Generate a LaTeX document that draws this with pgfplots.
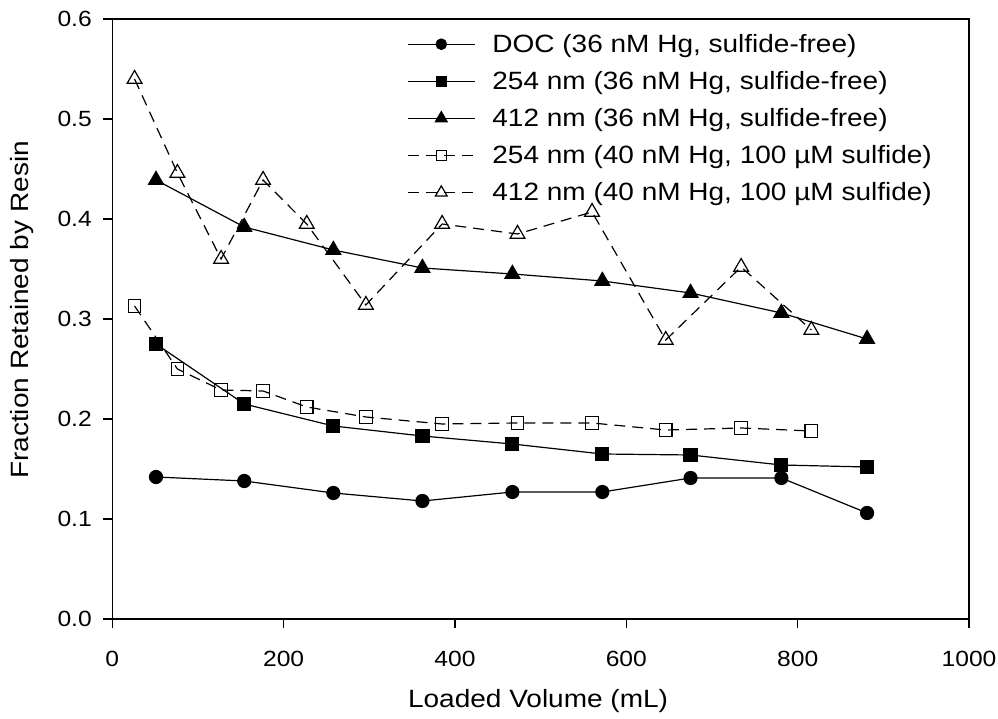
\documentclass[border=0pt]{standalone}
\usepackage{fontspec}
\setmainfont{Liberation Sans}[FakeStretch=1.12]
\usepackage{pgfplots}
\pgfplotsset{compat=1.18}
\begin{document}
\begin{tikzpicture}
\useasboundingbox (0pt,0pt) rectangle (998pt,719pt);
\begin{axis}[
  at={(112.3pt,100pt)}, anchor=south west,
  scale only axis, width=856.7pt, height=600pt,
  xmin=0, xmax=1000, ymin=0, ymax=0.6,
  xtick={0,200,400,600,800,1000},
  ytick={0,0.1,0.2,0.3,0.4,0.5,0.6},
  /pgf/number format/assume math mode=true,
  xtick pos=bottom, ytick pos=left,
  tick align=outside, major tick length=9pt,
  tick style={black, line width=1.2pt},
  axis line style={line width=1.3pt},
  ticklabel style={font=\fontsize{22}{26}\selectfont},
  yticklabel style={xshift=-8pt, /pgf/number format/.cd, fixed, fixed zerofill, precision=1},
  xticklabel style={yshift=-20pt, /pgf/number format/.cd, fixed, 1000 sep={}},
  label style={font=\fontsize{25}{30}\selectfont},
  xlabel={Loaded Volume (mL)},
  ylabel={Fraction Retained by Resin},
  xlabel style={at={(axis description cs:0.497,-0.137)}, anchor=center},
  ylabel style={at={(axis description cs:-0.105,0.515)}, anchor=center},
  legend style={at={(axis description cs:0.344,0.978)}, anchor=north west,
    draw=none, fill=none, inner sep=0pt,
    font=\fontsize{25}{30}\selectfont, row sep=13.5pt, column sep=15pt,
    nodes={inner sep=2pt}},
  legend cell align=left,
  legend image code/.code={
    \draw[mark repeat=2,mark phase=2,#1, every mark/.append style={scale=0.8}]
      plot coordinates {(0pt,0pt) (33.5pt,0pt) (67pt,0pt)};
  },
]
\addplot[black, line width=1.2pt, mark=*, mark size=6.5pt] coordinates {
 (51,0.142) (154,0.138) (258,0.126) (362,0.118) (467,0.127) (572,0.127) (675,0.141) (781,0.141) (881,0.106)};
\addlegendentry{DOC (36 nM Hg, sulfide-free)}
\addplot[black, line width=1.2pt, mark=square*, mark size=6.5pt] coordinates {
 (51,0.275) (154,0.215) (258,0.193) (362,0.183) (467,0.175) (572,0.165) (675,0.164) (781,0.154) (881,0.152)};
\addlegendentry{254 nm (36 nM Hg, sulfide-free)}
\addplot[black, line width=1.2pt, mark=triangle*, mark size=8.5pt] coordinates {
 (51,0.439) (154,0.392) (258,0.369) (362,0.351) (467,0.345) (572,0.338) (675,0.326) (781,0.306) (881,0.280)};
\addlegendentry{412 nm (36 nM Hg, sulfide-free)}
\addplot[black, line width=1.2pt, dash pattern=on 11pt off 7pt, mark=square, mark size=6.3pt, mark options={solid, fill=white}] coordinates {
 (26,0.313) (76,0.250) (127,0.229) (176,0.228) (227,0.212) (296,0.202) (385,0.195) (473,0.196) (560,0.196) (646,0.189) (734,0.191) (816,0.188)};
\addlegendentry{254 nm (40 nM Hg, 100 µM sulfide)}
\addplot[black, line width=1.2pt, dash pattern=on 11pt off 7pt, mark=triangle, mark size=8.5pt, mark options={solid, fill=white}] coordinates {
 (26,0.540) (76,0.446) (127,0.360) (176,0.439) (227,0.395) (296,0.314) (385,0.395) (473,0.385) (560,0.407) (646,0.279) (734,0.352) (816,0.289)};
\addlegendentry{412 nm (40 nM Hg, 100 µM sulfide)}
\end{axis}
\end{tikzpicture}
\end{document}
